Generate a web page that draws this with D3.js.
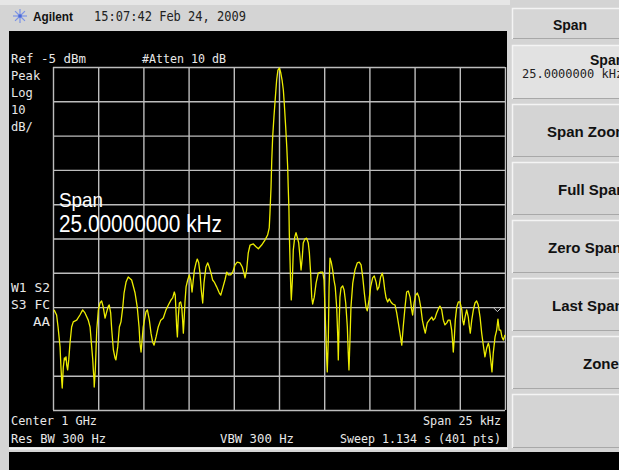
<!DOCTYPE html>
<html><head><meta charset="utf-8">
<script src="https://cdn.jsdelivr.net/npm/d3@7"></script>
<style>
html,body{margin:0;padding:0;background:#d4d4d4;overflow:hidden}
svg{display:block}
.mono{font-family:"DejaVu Sans Mono",monospace;fill:#e8e8e8}
</style></head>
<body>
<script>
// ---- data ----
const freqKHz = [-12.44,-12.30,-12.22,-12.11,-12.06,-12.02,-11.99,-11.93,-11.87,-11.84,-11.78,-11.74,-11.69,-11.63,-11.56,-11.47,-11.38,-11.19,-11.01,-10.86,-10.73,-10.55,-10.45,-10.36,-10.30,-10.27,-10.23,-10.22,-10.16,-10.08,-9.99,-9.90,-9.81,-9.72,-9.62,-9.53,-9.44,-9.39,-9.31,-9.25,-9.16,-9.07,-9.02,-8.92,-8.83,-8.74,-8.64,-8.57,-8.46,-8.34,-8.15,-7.96,-7.84,-7.74,-7.69,-7.63,-7.51,-7.36,-7.28,-7.17,-7.08,-6.99,-6.91,-6.80,-6.68,-6.54,-6.40,-6.25,-6.12,-5.97,-5.88,-5.79,-5.74,-5.70,-5.66,-5.62,-5.57,-5.51,-5.44,-5.38,-5.33,-5.29,-5.24,-5.20,-5.14,-5.05,-4.96,-4.88,-4.81,-4.74,-4.68,-4.59,-4.52,-4.44,-4.37,-4.30,-4.22,-4.15,-4.04,-3.94,-3.86,-3.76,-3.67,-3.58,-3.45,-3.30,-3.22,-3.11,-2.99,-2.89,-2.80,-2.67,-2.56,-2.43,-2.31,-2.16,-2.03,-1.94,-1.88,-1.79,-1.70,-1.60,-1.42,-1.27,-1.14,-0.96,-0.77,-0.63,-0.54,-0.50,-0.44,-0.40,-0.35,-0.28,-0.20,-0.13,-0.06,0.02,0.09,0.17,0.24,0.29,0.37,0.43,0.48,0.51,0.55,0.57,0.61,0.65,0.68,0.74,0.79,0.87,0.94,1.01,1.09,1.16,1.22,1.29,1.34,1.44,1.53,1.62,1.68,1.75,1.81,1.86,1.95,2.05,2.17,2.31,2.42,2.49,2.54,2.60,2.64,2.67,2.73,2.77,2.82,2.89,2.97,3.04,3.11,3.19,3.25,3.28,3.32,3.37,3.43,3.52,3.60,3.69,3.78,3.83,3.87,3.93,3.98,4.08,4.20,4.33,4.44,4.54,4.63,4.72,4.81,4.88,4.98,5.07,5.18,5.27,5.37,5.44,5.53,5.62,5.71,5.77,5.85,5.92,6.01,6.10,6.19,6.29,6.42,6.51,6.60,6.69,6.79,6.87,6.97,7.06,7.15,7.25,7.34,7.39,7.47,7.56,7.65,7.74,7.84,7.93,8.02,8.09,8.20,8.31,8.45,8.53,8.63,8.72,8.81,8.90,9.00,9.09,9.18,9.28,9.36,9.46,9.55,9.61,9.64,9.70,9.75,9.83,9.92,10.01,10.11,10.16,10.22,10.29,10.38,10.47,10.53,10.58,10.66,10.75,10.84,10.93,11.02,11.12,11.21,11.30,11.39,11.49,11.58,11.63,11.71,11.78,11.85,11.95,12.04,12.11,12.18,12.26,12.33,12.41,12.50];
const levelDbm = [-75.8,-77.3,-80.8,-86.6,-92.5,-96.3,-98.6,-92.5,-89.8,-90.4,-89.5,-91.9,-93.3,-90.4,-85.5,-80.8,-79.3,-78.8,-77.3,-75.8,-76.7,-78.8,-80.8,-86.6,-90.4,-93.3,-96.3,-98.3,-93.3,-81.7,-75.8,-73.8,-73.2,-75.0,-78.2,-76.4,-74.7,-74.4,-76.7,-81.7,-87.5,-89.8,-90.4,-86.6,-80.8,-79.3,-75.0,-70.9,-67.7,-66.2,-67.1,-70.9,-75.0,-80.8,-85.5,-88.1,-80.8,-76.4,-75.8,-78.8,-82.6,-85.2,-86.1,-83.7,-80.8,-78.8,-78.2,-75.8,-74.4,-72.9,-72.3,-70.6,-71.5,-75.8,-80.8,-83.7,-77.9,-73.8,-73.5,-75.0,-78.8,-82.6,-77.9,-73.5,-69.1,-67.1,-65.6,-67.1,-70.6,-67.1,-64.2,-62.1,-61.0,-62.1,-65.1,-70.0,-73.8,-68.0,-63.3,-62.1,-63.3,-65.1,-67.1,-67.7,-69.1,-70.9,-71.5,-69.4,-67.1,-64.8,-65.6,-65.6,-64.8,-62.7,-61.9,-62.1,-63.3,-65.1,-66.5,-64.2,-59.2,-56.9,-56.6,-57.4,-58.0,-56.9,-55.4,-54.0,-51.9,-47.6,-40.0,-32.1,-25.4,-19.6,-13.7,-8.8,-5.9,-5.3,-6.5,-8.8,-11.7,-15.5,-22.5,-28.3,-34.2,-40.0,-46.7,-53.4,-61.3,-69.1,-72.9,-67.1,-58.4,-54.6,-53.3,-54.6,-56.3,-60.4,-64.2,-60.4,-56.3,-55.1,-54.9,-56.3,-59.2,-65.1,-72.1,-74.1,-72.1,-68.0,-65.1,-64.8,-64.8,-67.1,-75.0,-83.7,-90.4,-93.9,-83.7,-69.1,-60.7,-61.9,-64.2,-67.1,-69.1,-75.0,-83.7,-90.4,-80.8,-72.1,-69.4,-68.8,-70.0,-73.8,-80.8,-88.4,-93.3,-83.7,-75.0,-68.0,-64.2,-62.1,-61.9,-62.7,-66.2,-70.9,-75.0,-76.1,-72.9,-69.1,-66.5,-65.9,-67.7,-70.0,-69.1,-66.2,-65.1,-66.5,-70.0,-72.3,-73.5,-72.6,-73.5,-74.1,-74.4,-76.7,-79.6,-82.6,-86.1,-80.8,-75.0,-70.6,-70.3,-72.1,-75.8,-77.3,-73.8,-71.5,-70.9,-72.1,-75.0,-78.8,-81.1,-82.6,-79.6,-78.8,-77.9,-78.8,-78.2,-76.7,-75.6,-74.7,-75.8,-78.8,-80.2,-79.6,-78.8,-78.8,-81.7,-85.5,-88.1,-83.7,-78.8,-75.0,-73.5,-73.5,-75.8,-78.8,-80.2,-77.9,-75.8,-77.9,-80.8,-82.6,-78.8,-75.8,-73.8,-73.2,-74.4,-77.9,-82.6,-86.1,-89.5,-86.9,-85.5,-86.6,-90.4,-93.9,-88.4,-83.7,-81.7,-78.5,-81.7,-81.7,-83.7,-84.6,-83.1];
const gridDbm = [-5,-15,-25,-35,-45,-55,-65,-75,-85,-95,-105];
const gridKHz = [-12.5,-10,-7.5,-5,-2.5,0,2.5,5,7.5,10,12.5];
const markerKHz = 12.08, markerDbm = -78.5;
const leftLabels = ["Peak","Log","10","dB/"];
const softkeys = ["Span Zoom","Full Span","Zero Span","Last Span","Zone",""];
const softkeyX = [547,558,548,552,583,0];

const W=619,H=470;
const svg=d3.select("body").append("svg").attr("width",W).attr("height",H);

// backgrounds
svg.append("rect").attr("x",0).attr("y",0).attr("width",W).attr("height",H).attr("fill","#d4d4d4");
svg.append("rect").attr("x",0).attr("y",0).attr("width",510).attr("height",5).attr("fill","#e6e6e6");
svg.append("rect").attr("x",9).attr("y",31).attr("width",498).attr("height",416).attr("fill","#000");
svg.append("line").attr("x1",9).attr("x2",508).attr("y1",448.5).attr("y2",448.5).attr("stroke","#f2f2f2").attr("stroke-width",2);
svg.append("rect").attr("x",9).attr("y",452).attr("width",W-9).attr("height",18).attr("fill","#000");

// title bar
const logo=svg.append("g").attr("transform","translate(20,16)");
for(let i=0;i<8;i++){const a=i*Math.PI/4;logo.append("line").attr("x1",0).attr("y1",0).attr("x2",7*Math.cos(a)).attr("y2",7*Math.sin(a)).attr("stroke","#7b93e6").attr("stroke-width",1.2);}
logo.append("circle").attr("r",1.8).attr("fill","#4a68d8");
svg.append("text").attr("x",33).attr("y",21).attr("font-family","Liberation Sans, Arial, sans-serif").attr("font-weight","bold").attr("font-size",13).attr("textLength",40).attr("lengthAdjust","spacingAndGlyphs").attr("fill","#111").text("Agilent");
svg.append("text").attr("x",94).attr("y",21).attr("font-family","DejaVu Sans Mono, monospace").attr("font-size",14).attr("textLength",152).attr("lengthAdjust","spacingAndGlyphs").attr("fill","#222").text("15:07:42  Feb 24, 2009");

// scales
const x=d3.scaleLinear().domain([-12.5,12.5]).range([53,505]);
const y=d3.scaleLinear().domain([-105,-5]).range([410,67]);

// grid via axes
const gx=svg.append("g").attr("transform","translate(0,410)")
  .call(d3.axisBottom(x).tickValues(gridKHz).tickSize(-(410-67)).tickFormat(""));
const gy=svg.append("g").attr("transform","translate(53,0)")
  .call(d3.axisLeft(y).tickValues(gridDbm).tickSize(-(505-53)).tickFormat(""));
[gx,gy].forEach(g=>{g.select(".domain").remove();g.selectAll("line").attr("stroke","#bdbdbd").attr("stroke-width",1.4);});

// texts in screen
function mono(t,xx,yy,opt={}){const e=svg.append("text").attr("class","mono").attr("x",xx).attr("y",yy).attr("font-size",opt.size||13).text(t);
  if(opt.len) e.attr("textLength",opt.len).attr("lengthAdjust","spacingAndGlyphs");
  if(opt.anchor) e.attr("text-anchor",opt.anchor); return e;}
mono("Ref -5 dBm",11,63,{len:75});
mono("#Atten 10 dB",142,63,{len:84});
leftLabels.forEach((t,i)=>mono(t,11,80+i*17,{len:t.length*7.3}));
mono("W1 S2",11,292,{len:39});
mono("S3 FC",11,309,{len:39});
mono("AA",33,326,{len:17});
mono("Center 1 GHz",11,425,{len:86});
mono("Res BW 300 Hz",11,443,{len:95});
mono("VBW 300 Hz",220,443,{len:74});
mono("Span 25 kHz",501,425,{len:78,anchor:"end"});
mono("Sweep 1.134 s (401 pts)",501,443,{len:161,anchor:"end"});

// trace
const pts=freqKHz.map((f,i)=>[f,levelDbm[i]]);
svg.append("path").datum(pts)
  .attr("d",d3.line().x(d=>x(d[0])).y(d=>y(d[1])))
  .attr("fill","none").attr("stroke","#eded00").attr("stroke-width",1.3).attr("stroke-linejoin","round");

// marker chevron
const mx=x(markerKHz), my=y(markerDbm)-9;
svg.append("path").attr("d",`M${mx-3.5},${my-2} L${mx},${my+1.5} L${mx+3.5},${my-2}`).attr("fill","none").attr("stroke","#cfcfcf").attr("stroke-width",1);

// big active function text
svg.append("text").attr("x",59).attr("y",207).attr("font-family","Liberation Sans, Arial, sans-serif").attr("font-size",21).attr("textLength",44).attr("lengthAdjust","spacingAndGlyphs").attr("fill","#fff").text("Span");
svg.append("text").attr("x",59).attr("y",232).attr("font-family","Liberation Sans, Arial, sans-serif").attr("font-size",23).attr("textLength",163).attr("lengthAdjust","spacingAndGlyphs").attr("fill","#fff").text("25.00000000 kHz");

// right softkey panel
function bevel(x0,y0,w,h,fill){
  svg.append("rect").attr("x",x0).attr("y",y0).attr("width",w).attr("height",h).attr("fill",fill);
  svg.append("path").attr("d",`M${x0+0.5},${y0+h} L${x0+0.5},${y0+0.5} L${x0+w},${y0+0.5}`).attr("fill","none").attr("stroke","#f4f4f4").attr("stroke-width",1.5);
  svg.append("path").attr("d",`M${x0+1},${y0+h-0.5} L${x0+w},${y0+h-0.5}`).attr("fill","none").attr("stroke","#a8a8a8").attr("stroke-width",1);
}
bevel(512,8,110,31,"#d6d6d6");
svg.append("text").attr("x",570).attr("y",30).attr("text-anchor","middle").attr("font-family","Liberation Sans, Arial, sans-serif").attr("font-weight","bold").attr("font-size",14).attr("fill","#111").text("Span");
bevel(512,45,110,54,"#e2e2e2");
svg.append("text").attr("x",590).attr("y",65).attr("font-family","Liberation Sans, Arial, sans-serif").attr("font-weight","bold").attr("font-size",14).attr("fill","#111").text("Span");
svg.append("text").attr("x",522).attr("y",78).attr("font-family","DejaVu Sans Mono, monospace").attr("font-size",12).attr("fill","#222").text("25.0000000 kHz");
softkeys.forEach((t,i)=>{
  const y0=104+i*58;
  bevel(512,y0,110,i===5?54:53,"#d4d4d4");
  if(t) svg.append("text").attr("x",softkeyX[i]).attr("y",y0+33).attr("font-family","Liberation Sans, Arial, sans-serif").attr("font-weight","bold").attr("font-size",15).attr("fill","#111").text(t);
});
</script>
</body></html>
